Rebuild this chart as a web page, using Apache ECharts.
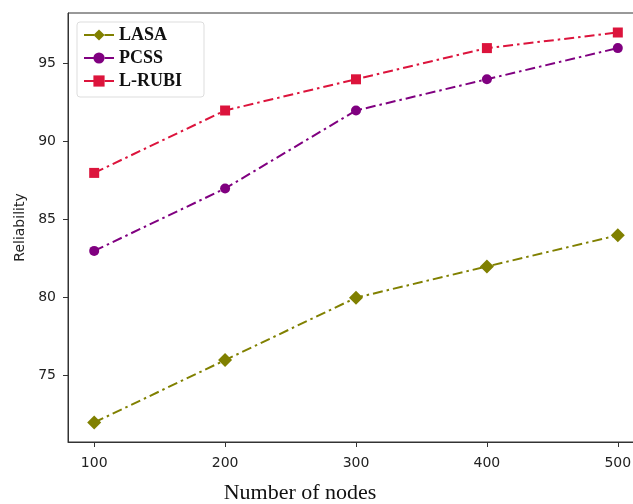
<!DOCTYPE html>
<html><head><meta charset="utf-8">
<script src="https://cdn.jsdelivr.net/npm/echarts@6/dist/echarts.min.js"></script>
<style>html,body{margin:0;padding:0;background:#fff}#c{width:633px;height:504px}</style>
</head><body><div id="c"></div>
<script>
const nodes = [100, 200, 300, 400, 500];
const lasa = [72, 76, 80, 82, 84];
const pcss = [83, 87, 92, 94, 96];
const lrubi = [88, 92, 94, 96, 97];
const yTicks = [75, 80, 85, 90, 95];
const xTicks = [100, 200, 300, 400, 500];

const pairs = arr => nodes.map((n, i) => [n, arr[i]]);
const dash = [10, 4, 2.5, 4];
function mk(name, data, color, symbol, size) {
  return {
    name, type: 'line', data: pairs(data), symbol, symbolSize: size,
    itemStyle: { color },
    lineStyle: { color, width: 2, type: dash },
    emphasis: { disabled: true }, animation: false
  };
}
const chart = echarts.init(document.getElementById('c'));
chart.setOption({
  animation: false,
  grid: { left: 68, top: 13, width: 576, height: 429, show: true, borderColor: '#333', borderWidth: 1,
          backgroundColor: 'transparent', containLabel: false, outerBoundsMode: 'none' },
  legend: {
    left: 77, top: 22, orient: 'vertical', itemGap: 5, itemWidth: 30, itemHeight: 14,
    padding: [4, 22, 7, 6],
    borderColor: '#ddd', borderWidth: 1, borderRadius: 3, backgroundColor: '#fff',
    textStyle: { fontFamily: 'Liberation Serif', fontWeight: 'bold', fontSize: 18, color: '#111', lineHeight: 18 },
    data: ['LASA', 'PCSS', 'L-RUBI']
  },
  graphic: [{
    type: 'text', x: 300, y: 493,
    style: { text: 'Number of nodes', font: '22px "Liberation Serif"', fill: '#111',
             textAlign: 'center', textVerticalAlign: 'middle' }
  }],
  xAxis: {
    type: 'value', min: 80, max: 520,
    axisLine: { lineStyle: { color: '#333' } },
    axisTick: { show: true, length: 5, customValues: xTicks, lineStyle: { color: '#333' } },
    axisLabel: { customValues: xTicks, fontFamily: 'DejaVu Sans', fontSize: 14, color: '#222', margin: 14 },
    splitLine: { show: false }
  },
  yAxis: {
    type: 'value', min: 70.75, max: 98.25,
    name: 'Reliability', nameLocation: 'middle', nameGap: 40,
    nameTextStyle: { fontFamily: 'DejaVu Sans', fontSize: 14, color: '#222' },
    axisLine: { show: true, lineStyle: { color: '#333' } },
    axisTick: { show: true, length: 5, customValues: yTicks, lineStyle: { color: '#333' } },
    axisLabel: { customValues: yTicks, fontFamily: 'DejaVu Sans', fontSize: 14, color: '#222', margin: 12 },
    splitLine: { show: false }
  },
  series: [
    mk('LASA', lasa, '#808000', 'diamond', 14),
    mk('PCSS', pcss, '#800080', 'circle', 10),
    mk('L-RUBI', lrubi, '#DC143C', 'rect', 10)
  ]
});
</script></body></html>
